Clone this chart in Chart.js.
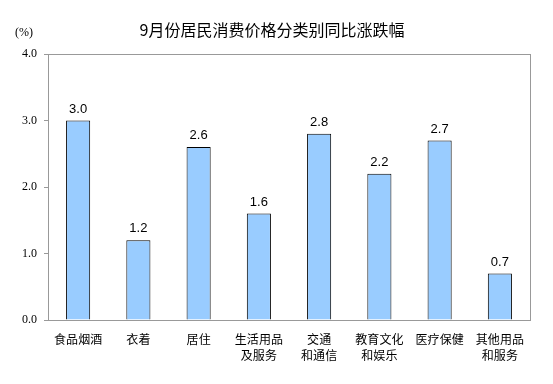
<!DOCTYPE html>
<html>
<head>
<meta charset="utf-8">
<script src="https://cdn.jsdelivr.net/npm/chart.js@4/dist/chart.umd.min.js"></script>
<style>
html,body{margin:0;padding:0;background:#fff;}
#wrap{width:553px;height:384px;}
</style>
</head>
<body>
<div id="wrap"><canvas id="c" width="553" height="384"></canvas></div>
<script>
const titleText = "9月份居民消费价格分类别同比涨跌幅";
const unitText = "(%)";
const categories = [
  ["食品烟酒"], ["衣着"], ["居住"], ["生活用品", "及服务"],
  ["交通", "和通信"], ["教育文化", "和娱乐"], ["医疗保健"], ["其他用品", "和服务"]
];
const values = [3.0, 1.2, 2.6, 1.6, 2.8, 2.2, 2.7, 0.7];
const yTicks = [0, 1, 2, 3, 4];

const decor = {
  id: 'decor',
  afterDraw(chart) {
    const ctx = chart.ctx;
    const a = chart.chartArea;
    ctx.save();
    ctx.strokeStyle = '#999999';
    ctx.lineWidth = 1;
    ctx.strokeRect(Math.round(a.left) + 0.5, Math.round(a.top) + 0.5, Math.round(a.right - a.left), Math.round(a.bottom - a.top));
    // title
    ctx.fillStyle = '#000';
    ctx.textAlign = 'center';
    ctx.textBaseline = 'middle';
    ctx.font = '16px "Noto Sans CJK SC"';
    ctx.fillText(titleText, 272, 30);
    ctx.font = '12px "Liberation Serif"';
    ctx.fillText(unitText, 24, 33);
    // value labels
    ctx.font = '13px "Liberation Sans"';
    ctx.textBaseline = 'bottom';
    const meta = chart.getDatasetMeta(0);
    meta.data.forEach((el, i) => {
      ctx.fillText(values[i].toFixed(1), el.x, el.y - 5);
    });
    ctx.restore();
  }
};

new Chart(document.getElementById('c'), {
  type: 'bar',
  data: {
    labels: categories,
    datasets: [{
      data: values,
      backgroundColor: '#99CCFF',
      borderColor: '#000000',
      borderWidth: 1,
      barPercentage: 0.4,
      categoryPercentage: 1.0
    }]
  },
  options: {
    responsive: false,
    animation: false,
    devicePixelRatio: 1,
    layout: { padding: { left: 0, right: 23, top: 54, bottom: 0 } },
    plugins: { legend: { display: false }, tooltip: { enabled: false }, title: { display: false } },
    scales: {
      x: {
        grid: { display: false, drawTicks: false },
        border: { display: false },
        ticks: {
          color: '#000',
          font: { family: '"Noto Sans CJK SC"', size: 12, lineHeight: 1.3 },
          padding: 12,
          maxRotation: 0,
          autoSkip: false
        },
        afterFit(s) { s.height = 64; }
      },
      y: {
        min: 0, max: 4,
        afterBuildTicks(s) { s.ticks = yTicks.map(v => ({ value: v })); },
        grid: { drawOnChartArea: false, drawTicks: true, tickLength: 4, color: '#999999' },
        border: { display: false },
        ticks: {
          color: '#000',
          font: { family: '"Liberation Serif"', size: 12 },
          padding: 7,
          callback: v => Number(v).toFixed(1)
        },
        afterFit(s) { s.width = 48; }
      }
    }
  },
  plugins: [decor]
});
</script>
</body>
</html>
